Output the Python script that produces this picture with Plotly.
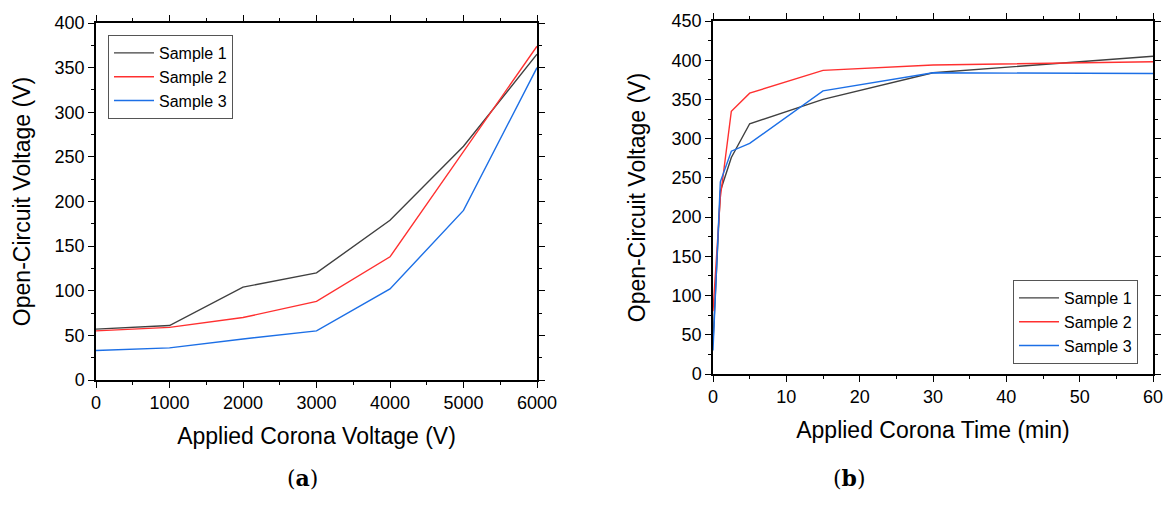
import plotly.graph_objects as go

# ---- data: panel (a) ----
corona_voltage = [0, 1000, 2000, 3000, 4000, 5000, 6000]
a_sample1 = [57, 61, 104, 120, 179, 262, 365]
a_sample2 = [55, 59, 70, 88, 138, 256, 374]
a_sample3 = [33, 36, 46, 55, 102, 190, 350]

# ---- data: panel (b) ----
corona_time = [0, 1, 2.5, 5, 15, 30, 60]
b_sample1 = [40, 233, 276, 319, 350, 384, 405]
b_sample2 = [80, 225, 335, 358, 387, 394, 398]
b_sample3 = [30, 245, 284, 294, 361, 384, 383]

names = ["Sample 1", "Sample 2", "Sample 3"]
colors = ["#404040", "#ff3030", "#1c6fe6"]

W, H = 1169, 509
FONT = "Liberation Sans, Arial, sans-serif"

fig = go.Figure()
for name, ys, c in zip(names, [a_sample1, a_sample2, a_sample3], colors):
    fig.add_trace(go.Scatter(x=corona_voltage, y=ys, mode="lines", name=name,
                             line=dict(color=c, width=1.4), xaxis="x", yaxis="y",
                             legend="legend"))
for name, ys, c in zip(names, [b_sample1, b_sample2, b_sample3], colors):
    fig.add_trace(go.Scatter(x=corona_time, y=ys, mode="lines", name=name,
                             line=dict(color=c, width=1.4), xaxis="x2", yaxis="y2",
                             legend="legend2"))

def ax(**kw):
    d = dict(showline=True, linecolor="black", linewidth=1.5, mirror="ticks",
             ticks="outside", ticklen=6, tickwidth=1.3, tickcolor="black",
             showgrid=False, zeroline=False, automargin=False,
             tickfont=dict(family=FONT, size=18, color="black"))
    d.update(kw)
    return d

def px(x):
    return x / W

def py(y):
    return 1 - y / H

MINOR = dict(ticks="outside", ticklen=3, tickcolor="black", tickwidth=1)
TITLE_FONT = dict(family=FONT, size=23, color="black")
LEG_FONT = dict(family=FONT, size=16, color="black")

fig.update_layout(
    width=W, height=H,
    margin=dict(l=0, r=0, t=0, b=0),
    paper_bgcolor="white", plot_bgcolor="white",
    font=dict(family=FONT, color="black"),
    xaxis=ax(domain=[px(96), px(537)], range=[0, 6000], dtick=1000, tick0=0,
             minor=dict(dtick=500, **MINOR),
             title=dict(text="Applied Corona Voltage (V)", standoff=16, font=TITLE_FONT),
             anchor="y"),
    yaxis=ax(domain=[py(380), py(23)], range=[0, 400], dtick=50, tick0=0,
             minor=dict(dtick=25, **MINOR),
             title=dict(text="Open-Circuit Voltage (V)", standoff=18, font=TITLE_FONT),
             anchor="x"),
    xaxis2=ax(domain=[px(713), px(1153)], range=[0, 60], dtick=10, tick0=0,
              minor=dict(dtick=5, **MINOR),
              title=dict(text="Applied Corona Time (min)", standoff=16, font=TITLE_FONT),
              anchor="y2"),
    yaxis2=ax(domain=[py(374), py(21)], range=[0, 450], dtick=50, tick0=0,
              minor=dict(dtick=25, **MINOR),
              title=dict(text="Open-Circuit Voltage (V)", standoff=20, font=TITLE_FONT),
              anchor="x2"),
    legend=dict(x=px(108), y=py(35), xanchor="left", yanchor="top",
                bordercolor="#555555", borderwidth=1, bgcolor="white",
                font=LEG_FONT, tracegroupgap=0, itemwidth=40),
    legend2=dict(x=px(1013), y=py(364), xanchor="left", yanchor="bottom",
                 bordercolor="#555555", borderwidth=1, bgcolor="white",
                 font=LEG_FONT, tracegroupgap=0, itemwidth=40),
    showlegend=True,
    annotations=[
        dict(text="(<b>a</b>)", x=px(285), y=py(493), xref="paper", yref="paper",
             showarrow=False, font=dict(family="DejaVu Serif, Liberation Serif, serif", size=22, color="black")),
        dict(text="(<b>b</b>)", x=px(868), y=py(493), xref="paper", yref="paper",
             showarrow=False, font=dict(family="DejaVu Serif, Liberation Serif, serif", size=22, color="black")),
    ],
)

fig.write_html("out.html")
